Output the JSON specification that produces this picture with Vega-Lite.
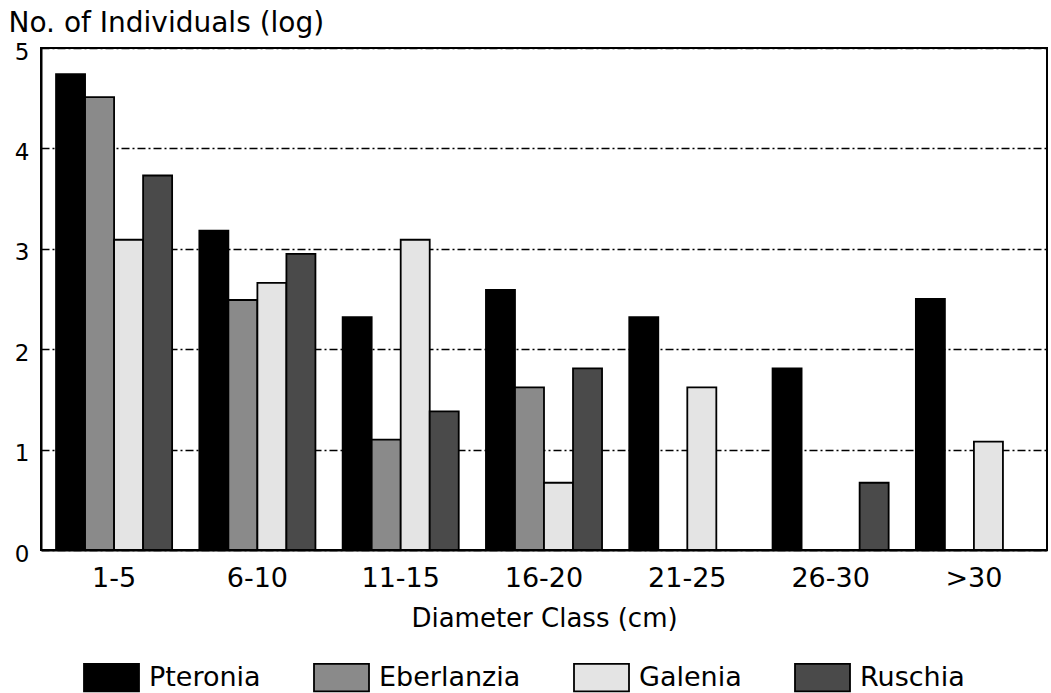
{
  "$schema": "https://vega.github.io/schema/vega-lite/v6.json",
  "width": 1006,
  "height": 502,
  "autosize": {"type": "none"},
  "padding": {"left": 41, "top": 48, "right": 4, "bottom": 143},
  "background": "white",
  "config": {
    "font": "DejaVu Sans",
    "view": {"stroke": "black", "strokeWidth": 2}
  },
  "data": {
    "values": [
      {"diameter": "1-5", "genus": "Pteronia", "value": 4.74},
      {"diameter": "1-5", "genus": "Eberlanzia", "value": 4.51},
      {"diameter": "1-5", "genus": "Galenia", "value": 3.09},
      {"diameter": "1-5", "genus": "Ruschia", "value": 3.73},
      {"diameter": "6-10", "genus": "Pteronia", "value": 3.18},
      {"diameter": "6-10", "genus": "Eberlanzia", "value": 2.49},
      {"diameter": "6-10", "genus": "Galenia", "value": 2.66},
      {"diameter": "6-10", "genus": "Ruschia", "value": 2.95},
      {"diameter": "11-15", "genus": "Pteronia", "value": 2.32},
      {"diameter": "11-15", "genus": "Eberlanzia", "value": 1.1},
      {"diameter": "11-15", "genus": "Galenia", "value": 3.09},
      {"diameter": "11-15", "genus": "Ruschia", "value": 1.38},
      {"diameter": "16-20", "genus": "Pteronia", "value": 2.59},
      {"diameter": "16-20", "genus": "Eberlanzia", "value": 1.62},
      {"diameter": "16-20", "genus": "Galenia", "value": 0.67},
      {"diameter": "16-20", "genus": "Ruschia", "value": 1.81},
      {"diameter": "21-25", "genus": "Pteronia", "value": 2.32},
      {"diameter": "21-25", "genus": "Galenia", "value": 1.62},
      {"diameter": "26-30", "genus": "Pteronia", "value": 1.81},
      {"diameter": "26-30", "genus": "Ruschia", "value": 0.67},
      {"diameter": ">30", "genus": "Pteronia", "value": 2.5},
      {"diameter": ">30", "genus": "Galenia", "value": 1.08}
    ]
  },
  "mark": {"type": "bar", "stroke": "black", "strokeWidth": 1.8},
  "encoding": {
    "x": {
      "field": "diameter",
      "type": "nominal",
      "sort": ["1-5", "6-10", "11-15", "16-20", "21-25", "26-30", ">30"],
      "scale": {"paddingInner": 0.19, "paddingOuter": 0.105},
      "axis": {
        "title": "Diameter Class (cm)",
        "titleFontSize": 26,
        "titleFontWeight": "normal",
        "titleBaseline": "alphabetic",
        "titleY": 76,
        "labelAngle": 0,
        "labelFontSize": 27,
        "labelPadding": 15,
        "ticks": false,
        "domainColor": "black",
        "domainWidth": 2,
        "labelColor": "black",
        "titleColor": "black"
      }
    },
    "xOffset": {
      "field": "genus",
      "type": "nominal",
      "scale": {"domain": ["Pteronia", "Eberlanzia", "Galenia", "Ruschia"], "paddingInner": 0, "paddingOuter": 0}
    },
    "y": {
      "field": "value",
      "type": "quantitative",
      "scale": {"domain": [0, 5], "nice": false},
      "axis": {
        "title": "No. of Individuals (log)",
        "titleAngle": 0,
        "titleAlign": "left",
        "titleBaseline": "alphabetic",
        "titleX": -33,
        "titleY": -17,
        "titleFontSize": 28,
        "titleFontWeight": "normal",
        "titleColor": "black",
        "values": [0, 1, 2, 3, 4, 5],
        "labelFontSize": 23,
        "labelColor": "black",
        "labelPadding": 12,
        "labelOffset": 4,
        "ticks": false,
        "domainColor": "black",
        "domainWidth": 2,
        "grid": true,
        "gridColor": "black",
        "gridWidth": 1.5,
        "gridDash": [8, 3, 2, 3]
      }
    },
    "fill": {
      "field": "genus",
      "type": "nominal",
      "scale": {
        "domain": ["Pteronia", "Eberlanzia", "Galenia", "Ruschia"],
        "range": ["#000000", "#8a8a8a", "#e4e4e4", "#4a4a4a"]
      },
      "legend": {
        "title": null,
        "orient": "none",
        "direction": "horizontal",
        "legendX": 42,
        "legendY": 601,
        "symbolType": "M-1,-0.5H1V0.5H-1Z",
        "symbolSize": 3025,
        "symbolStrokeColor": "black",
        "symbolStrokeWidth": 1.8,
        "symbolOpacity": 1,
        "labelFontSize": 27,
        "labelColor": "black",
        "labelOffset": 9,
        "columnPadding": 49,
        "labelLimit": 300
      }
    }
  }
}
